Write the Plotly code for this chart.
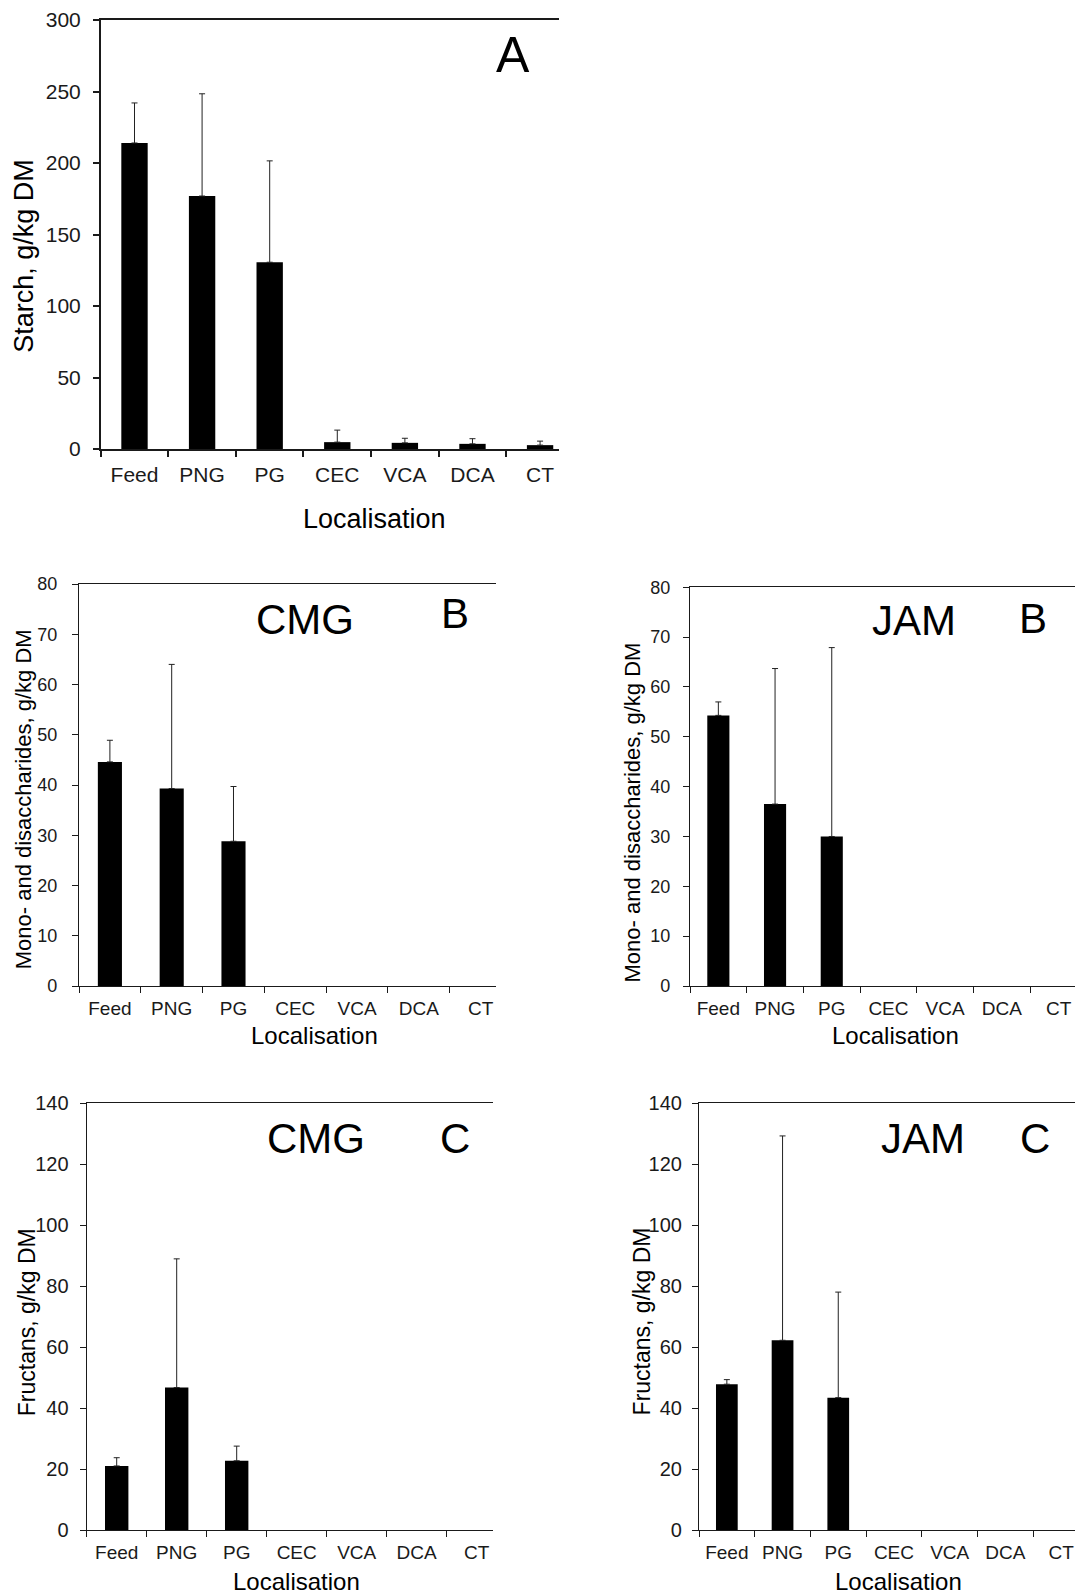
import plotly.graph_objects as go

W, H = 1075, 1595

categories = ["Feed", "PNG", "PG", "CEC", "VCA", "DCA", "CT"]

starch = [214.0, 176.9, 130.6, 4.8, 4.3, 3.6, 2.7]
starch_err = [28.0, 71.5, 70.9, 8.4, 3.2, 3.6, 2.8]

mono_cmg = [44.6, 39.3, 28.8, None, None, None, None]
mono_cmg_err = [4.3, 24.7, 10.9, None, None, None, None]

mono_jam = [54.3, 36.5, 30.0, None, None, None, None]
mono_jam_err = [2.7, 27.2, 37.9, None, None, None, None]

fruct_cmg = [21.1, 46.8, 22.8, None, None, None, None]
fruct_cmg_err = [2.7, 42.2, 4.8, None, None, None, None]

fruct_jam = [47.9, 62.3, 43.5, None, None, None, None]
fruct_jam_err = [1.5, 67.0, 34.6, None, None, None, None]

FONT = "Liberation Sans, Arial, sans-serif"
INK = "#1a1a1a"


def px(x):
    return x / W


def py(y):
    return 1 - y / H


# (values, errors, x0, x1, ytop, ybot, xmax, ymax, dtick, xtickfont, ytickfont, ystandoff, xstandoff, lw)
panels = [
    (starch, starch_err, 100.7, 559, 20, 449, 6.28, 300, 50, 21, 21, 8, 6, 1.5),
    (mono_cmg, mono_cmg_err, 79, 495.7, 584, 986, 6.243, 80, 10, 19, 18, 11, 5, 1.2),
    (mono_jam, mono_jam_err, 690, 1075, 587.3, 986, 6.29, 80, 10, 19, 18, 9, 5, 1.2),
    (fruct_cmg, fruct_cmg_err, 86.7, 492.7, 1103.3, 1530.3, 6.267, 140, 20, 19, 20, 7, 5, 1.2),
    (fruct_jam, fruct_jam_err, 699, 1075, 1103.3, 1530.3, 6.25, 140, 20, 19, 20, 6, 5, 1.2),
]

fig = go.Figure()
layout = {}
for i, (vals, errs, x0, x1, yt, yb, xmax, ymax, dt, xtf, ytf, ysd, xsd, lw) in enumerate(panels):
    n = "" if i == 0 else str(i + 1)
    fig.add_trace(go.Bar(
        x=categories, y=vals,
        xaxis="x" + n, yaxis="y" + n,
        width=0.39,
        marker=dict(color="black", line=dict(width=0)),
        error_y=dict(type="data", symmetric=False, array=errs,
                     arrayminus=[0] * len(errs), color="#222222",
                     thickness=1, width=3),
        showlegend=False,
    ))
    layout["xaxis" + n] = dict(
        domain=[px(x0), min(1.0, px(x1))], anchor="y" + n,
        type="category", range=[-0.5, xmax], automargin=False,
        showline=True, linecolor=INK, linewidth=lw, mirror=True,
        ticks="outside", tickson="boundaries", ticklen=6, tickcolor=INK, tickwidth=lw,
        showgrid=False, zeroline=False,
        tickfont=dict(family=FONT, size=xtf, color=INK),
        ticklabelstandoff=xsd,
    )
    layout["yaxis" + n] = dict(
        domain=[py(yb), py(yt)], anchor="x" + n,
        range=[0, ymax], dtick=dt, tick0=0, automargin=False,
        showline=True, linecolor=INK, linewidth=lw, mirror=False,
        ticks="outside", ticklen=6, tickcolor=INK, tickwidth=lw,
        showgrid=False, zeroline=False,
        tickfont=dict(family=FONT, size=ytf, color=INK),
        ticklabelstandoff=ysd,
    )

annots = [
    # y titles
    ("Starch, g/kg DM", 24, 255.7, 27, -90),
    ("Mono- and disaccharides, g/kg DM", 23.3, 799, 22, -90),
    ("Mono- and disaccharides, g/kg DM", 632, 812.5, 22, -90),
    ("Fructans, g/kg DM", 26.7, 1322.5, 23, -90),
    ("Fructans, g/kg DM", 641.7, 1321.7, 23, -90),
    # x titles
    ("Localisation", 374.8, 519, 27, 0),
    ("Localisation", 314.2, 1035.5, 24, 0),
    ("Localisation", 895.8, 1035.5, 24, 0),
    ("Localisation", 296, 1581.5, 24, 0),
    ("Localisation", 898.3, 1581.5, 24, 0),
    # panel letters / groups
    ("A", 513.3, 55.3, 50, 0),
    ("CMG", 304.5, 619.2, 42, 0),
    ("B", 454.5, 613.3, 42, 0),
    ("JAM", 913.8, 620, 42, 0),
    ("B", 1033, 618, 42, 0),
    ("CMG", 316.3, 1138.3, 42, 0),
    ("C", 454.7, 1138, 42, 0),
    ("JAM", 922.8, 1138, 42, 0),
    ("C", 1035, 1138, 42, 0),
]

annotations = []
for text, x, y, size, ang in annots:
    annotations.append(dict(
        text=text, x=px(x), y=py(y), xref="paper", yref="paper",
        xanchor="center", yanchor="middle", showarrow=False,
        textangle=ang, font=dict(family=FONT, size=size, color="black"),
    ))

fig.update_layout(
    width=W, height=H, autosize=False,
    margin=dict(l=0, r=0, t=0, b=0, pad=0, autoexpand=False),
    paper_bgcolor="white", plot_bgcolor="white",
    annotations=annotations,
    **layout,
)

fig.write_html("out.html")
